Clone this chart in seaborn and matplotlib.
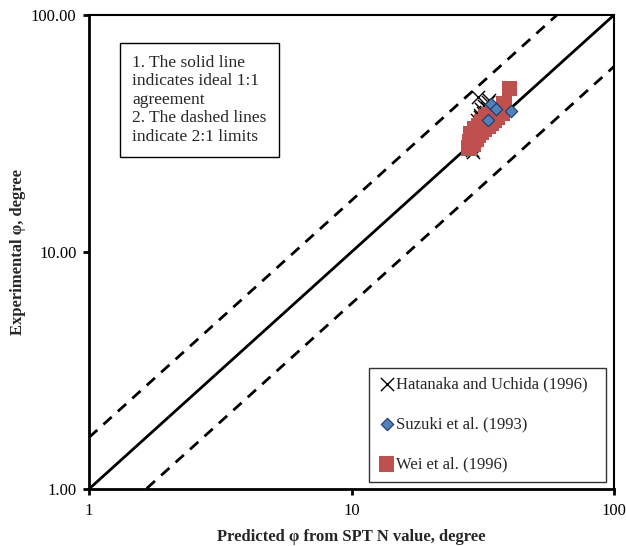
import numpy as np
import pandas as pd
import matplotlib
matplotlib.use("Agg")
import matplotlib.pyplot as plt
import seaborn as sns
from matplotlib.ticker import FixedLocator, FixedFormatter, NullLocator

# ---- data ----
hat_x = [28.5, 29.0, 29.5, 30.0, 30.3, 30.8, 31.2, 31.5, 32.0, 32.5, 33.0,
         29.8, 30.5, 31.0, 28.8, 29.2, 30.0, 31.8, 32.8, 33.5, 29.0]
hat_y = [28.0, 30.5, 33.0, 36.0, 45.0, 38.0, 40.0, 36.5, 41.5, 39.0, 43.0,
         31.0, 34.5, 37.0, 27.0, 29.5, 32.0, 38.5, 40.5, 44.0, 26.5]
suz_x = [34.0, 40.5, 33.0, 35.5]
suz_y = [42.0, 39.5, 36.0, 40.0]
wei_x = [28.0, 28.3, 28.6, 29.0, 29.3, 29.7, 30.0, 30.4, 30.8, 31.2, 31.6,
         32.0, 32.5, 33.0, 33.5, 34.0, 34.5, 35.0, 35.5, 36.0, 36.8, 37.5,
         38.0, 40.0, 28.5, 29.5, 30.5, 31.5, 32.5, 33.5, 34.5]
wei_y = [27.5, 29.0, 30.5, 28.5, 31.5, 30.0, 32.5, 31.0, 33.5, 32.0, 34.5,
         33.0, 35.5, 34.0, 36.5, 35.0, 37.5, 36.0, 38.0, 37.0, 39.0, 38.5,
         42.0, 49.0, 31.5, 33.0, 34.0, 35.5, 37.0, 38.0, 39.5]
line_x = [1, 100]
limit_factor = 1.65
x_ticks = [1, 10, 100]
x_tick_labels = ["1", "10", "100"]
y_ticks = [1, 10, 100]
y_tick_labels = ["1.00", "10.00", "100.00"]

sns.set_style("white")
plt.rcParams['font.family'] = ['Liberation Serif', 'DejaVu Serif']

fig = plt.figure(figsize=(6.26, 5.46), dpi=100)
ax = fig.add_axes([89/626, 57/546, 525/626, 474/546])

# reference lines
ax.plot(line_x, line_x, color='black', lw=2)
ax.plot(line_x, [v * limit_factor for v in line_x], color='black', lw=2, ls=(0, (4, 3)))
ax.plot(line_x, [v / limit_factor for v in line_x], color='black', lw=2, ls=(0, (4, 3)))

sns.scatterplot(x=hat_x, y=hat_y, ax=ax, marker='x', color='black', s=90,
                linewidth=1.0, label='Hatanaka and Uchida (1996)', zorder=3)
sns.scatterplot(x=suz_x, y=suz_y, ax=ax, marker='D', color='#4F81BD', s=40,
                edgecolor='#1F3864', linewidth=0.8, label='Suzuki et al. (1993)', zorder=4)
sns.scatterplot(x=wei_x, y=wei_y, ax=ax, marker='s', color='#C0504D', s=130,
                edgecolor='none', label='Wei et al. (1996)', zorder=3)

ax.set_xscale('log')
ax.set_yscale('log')
ax.set_xlim(1, 100)
ax.set_ylim(1, 100)
ax.xaxis.set_major_locator(FixedLocator(x_ticks))
ax.xaxis.set_major_formatter(FixedFormatter(x_tick_labels))
ax.yaxis.set_major_locator(FixedLocator(y_ticks))
ax.yaxis.set_major_formatter(FixedFormatter(y_tick_labels))
ax.xaxis.set_minor_locator(NullLocator())
ax.yaxis.set_minor_locator(NullLocator())
ax.tick_params(axis='both', which='major', direction='out', length=4, width=2,
               labelsize=12, colors='black', bottom=True, left=True)
ax.tick_params(axis='y', pad=5)
ax.tick_params(axis='x', pad=6)

for side in ['left', 'bottom']:
    ax.spines[side].set_linewidth(2)
    ax.spines[side].set_color('black')
for side in ['top', 'right']:
    ax.spines[side].set_linewidth(1.5)
    ax.spines[side].set_color('black')

ax.set_xlabel('Predicted φ from SPT N value, degree', fontsize=12, fontweight='bold')
ax.set_ylabel('Experimental φ, degree', fontsize=12, fontweight='bold')
ax.xaxis.set_label_coords(0.5, (489 - 537) / 474)
ax.yaxis.set_label_coords((18 - 89) / 525, 0.5)
ax.xaxis.label.set_va('center')
ax.yaxis.label.set_va('center')

ax.text((132 - 89) / 525, (489 - 55) / 474,
        "1. The solid line\nindicates ideal 1:1\nagreement\n2. The dashed lines\nindicate 2:1 limits",
        transform=ax.transAxes, fontsize=12.5, va='top', ha='left', linespacing=1.2,
        bbox=dict(boxstyle='square,pad=0.7', facecolor='white', edgecolor='black', lw=1))

leg = ax.legend(loc='lower left',
                bbox_to_anchor=((369 - 89) / 525, 0.015, (606 - 369) / 525, 0.1),
                mode='expand', frameon=True, fancybox=False,
                edgecolor='black', fontsize=12, labelspacing=1.44, handletextpad=0.1,
                handlelength=1.0, borderpad=0.55, borderaxespad=0.0)
leg.get_frame().set_linewidth(1)

fig.savefig('out.png', dpi=100)
